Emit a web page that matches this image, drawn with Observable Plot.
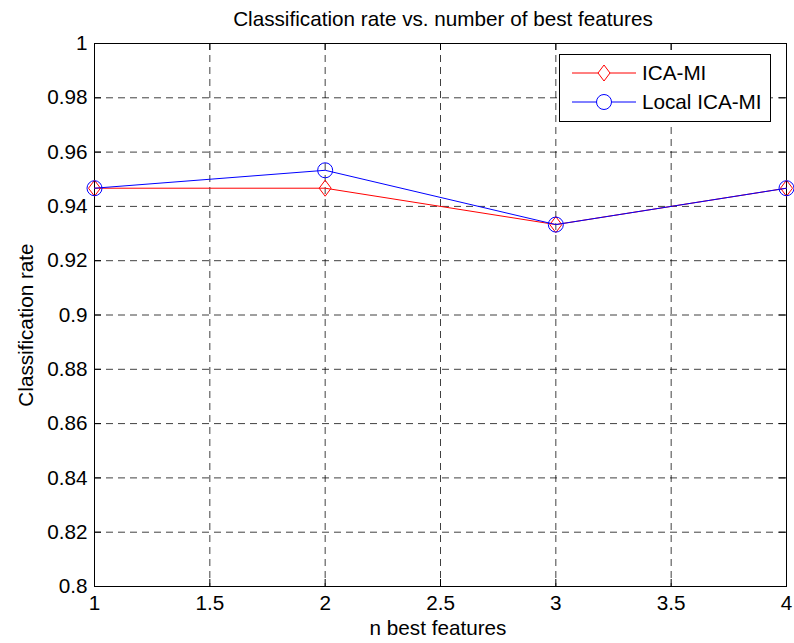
<!DOCTYPE html>
<html>
<head>
<meta charset="utf-8">
<script src="https://cdn.jsdelivr.net/npm/d3@7"></script>
<script src="https://cdn.jsdelivr.net/npm/@observablehq/plot@0.6"></script>
<style>
  html, body { margin: 0; padding: 0; background: #fff; }
  svg { display: block; }
</style>
</head>
<body>
<div id="chart"></div>
<script>
// ---- data ----
const nFeatures = [1, 2, 3, 4];
const icaMI = [0.9467, 0.9467, 0.9333, 0.9467];
const localIcaMI = [0.9467, 0.9533, 0.9333, 0.9467];
const seriesNames = ["ICA-MI", "Local ICA-MI"];
const xTicks = [1, 1.5, 2, 2.5, 3, 3.5, 4];
const yTicks = [0.8, 0.82, 0.84, 0.86, 0.88, 0.9, 0.92, 0.94, 0.96, 0.98, 1];
const titleText = "Classification rate vs. number of best features";
const xLabel = "n best features";
const yLabel = "Classification rate";

const rowsA = nFeatures.map((x, i) => ({x, y: icaMI[i]}));
const rowsB = nFeatures.map((x, i) => ({x, y: localIcaMI[i]}));

const W = 794, H = 643;
const mL = 94, mR = 8, mT = 43, mB = 57;
const plotW = W - mL - mR, plotH = H - mT - mB;
const tickLen = 7;
const font = "'Liberation Sans', Arial, Helvetica, sans-serif";
const fs = 20.7;

// MATLAB-like diamond (slightly taller than wide)
const diamondSym = {
  draw(ctx, size) {
    const r = Math.sqrt(size / Math.PI);
    const w = r * 0.75, h = r;
    ctx.moveTo(0, -h); ctx.lineTo(w, 0); ctx.lineTo(0, h); ctx.lineTo(-w, 0); ctx.closePath();
  }
};

const fmtY = d => String(+d.toFixed(2));

const chart = Plot.plot({
  width: W, height: H,
  marginLeft: mL, marginRight: mR, marginTop: mT, marginBottom: mB,
  style: {fontFamily: font, fontSize: fs + "px", color: "black", background: "white", overflow: "visible"},
  x: {domain: [1, 4]},
  y: {domain: [0.8, 1]},
  marks: [
    Plot.gridX(xTicks.slice(1, -1), {stroke: "black", strokeOpacity: 0.75, strokeDasharray: "7,5"}),
    Plot.gridY(yTicks.slice(1, -1), {stroke: "black", strokeOpacity: 0.75, strokeDasharray: "7,5"}),
    // inward ticks on all four sides
    Plot.tickX(xTicks, {x: d => d, insetBottom: plotH - tickLen, stroke: "black"}),
    Plot.tickX(xTicks, {x: d => d, insetTop: plotH - tickLen, stroke: "black"}),
    Plot.tickY(yTicks, {y: d => d, insetRight: plotW - tickLen, stroke: "black"}),
    Plot.tickY(yTicks, {y: d => d, insetLeft: plotW - tickLen, stroke: "black"}),
    Plot.axisX(xTicks, {tickSize: 0, tickPadding: 9, label: null, tickFormat: d => String(d)}),
    Plot.axisY(yTicks, {tickSize: 0, tickPadding: 7, label: null, tickFormat: fmtY}),
    Plot.frame({stroke: "black"}),
    Plot.line(rowsA, {x: "x", y: "y", stroke: "#ff0000", strokeWidth: 1}),
    Plot.dot(rowsA, {x: "x", y: "y", symbol: diamondSym, r: 8, stroke: "#ff0000", fill: "none", strokeWidth: 1}),
    Plot.line(rowsB, {x: "x", y: "y", stroke: "#0000ff", strokeWidth: 1}),
    Plot.dot(rowsB, {x: "x", y: "y", symbol: "circle", r: 7.5, stroke: "#0000ff", fill: "none", strokeWidth: 1})
  ]
});

document.getElementById("chart").appendChild(chart);

const svg = d3.select(chart);

// title and axis labels
svg.append("text")
  .attr("x", 443).attr("y", 26)
  .attr("text-anchor", "middle")
  .attr("font-family", font).attr("font-size", fs).attr("fill", "black")
  .text(titleText);

svg.append("text")
  .attr("x", 438).attr("y", 635)
  .attr("text-anchor", "middle")
  .attr("font-family", font).attr("font-size", fs).attr("fill", "black")
  .text(xLabel);

svg.append("text")
  .attr("transform", "translate(33,325) rotate(-90)")
  .attr("text-anchor", "middle")
  .attr("font-family", font).attr("font-size", fs).attr("fill", "black")
  .text(yLabel);

// legend
const lg = svg.append("g").attr("font-family", font).attr("font-size", fs).attr("text-anchor", "start");
lg.append("rect")
  .attr("x", 559.5).attr("y", 54.5).attr("width", 211).attr("height", 67)
  .attr("fill", "white").attr("stroke", "black");
const legendItems = [
  {name: seriesNames[0], color: "#ff0000", sym: diamondSym, r: 8},
  {name: seriesNames[1], color: "#0000ff", sym: d3.symbolCircle, r: 7.5}
];
legendItems.forEach((it, i) => {
  const cy = 73 + i * 29;
  lg.append("line").attr("x1", 572).attr("x2", 636).attr("y1", cy).attr("y2", cy)
    .attr("stroke", it.color).attr("stroke-width", 1);
  lg.append("path")
    .attr("d", d3.symbol().type(it.sym).size(Math.PI * it.r * it.r)())
    .attr("transform", `translate(604,${cy})`)
    .attr("fill", "white").attr("stroke", it.color);
  lg.append("text").attr("x", 642).attr("y", cy).attr("dy", "0.36em")
    .attr("text-anchor", "start")
    .attr("fill", "black").text(it.name);
});
</script>
</body>
</html>
